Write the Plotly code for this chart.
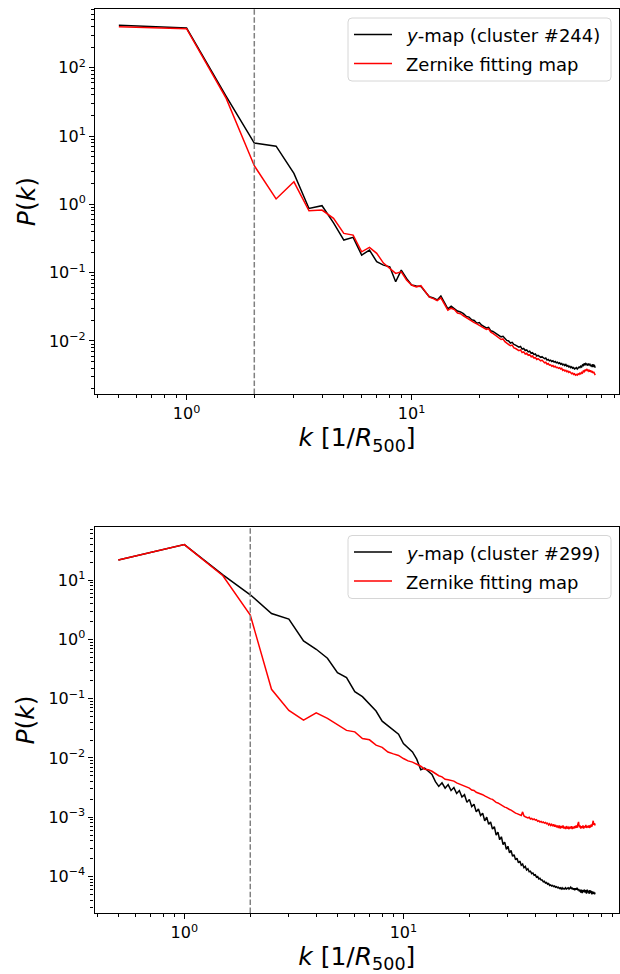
import plotly.graph_objects as go

# ---------------- data ----------------
k_244 = [
    0.5, 1.0, 1.5, 2.0, 2.5, 3.0, 3.5, 4.0, 4.5, 5.0,
    5.5, 6.0, 6.5, 7.0, 7.5, 8.0, 8.5, 9.0, 9.5, 10.0,
    10.5, 11.0, 11.5, 12.0, 12.5, 13.0, 13.5, 14.0, 14.5, 15.0,
    15.5, 16.0, 16.5, 17.0, 17.5, 18.0, 18.5, 19.0, 19.5, 20.0,
    20.5, 21.0, 21.5, 22.0, 22.5, 23.0, 23.5, 24.0, 24.5, 25.0,
    25.5, 26.0, 26.5, 27.0, 27.5, 28.0, 28.5, 29.0, 29.5, 30.0,
    30.5, 31.0, 31.5, 32.0, 32.5, 33.0, 33.5, 34.0, 34.5, 35.0,
    35.5, 36.0, 36.5, 37.0, 37.5, 38.0, 38.5, 39.0, 39.5, 40.0,
    40.5, 41.0, 41.5, 42.0, 42.5, 43.0, 43.5, 44.0, 44.5, 45.0,
    45.5, 46.0, 46.5, 47.0, 47.5, 48.0, 48.5, 49.0, 49.5, 50.0,
    50.5, 51.0, 51.5, 52.0, 52.5, 53.0, 53.5, 54.0, 54.5, 55.0,
    55.5, 56.0, 56.5, 57.0, 57.5, 58.0, 58.5, 59.0, 59.5, 60.0,
    60.5, 61.0, 61.5, 62.0, 62.5, 63.0, 63.5, 64.0, 64.5, 65.0,
    65.5,
]
P_ymap_244 = [
    417, 380, 38.0, 7.9, 7.1, 2.84, 0.87, 0.955, 0.537, 0.300,
    0.329, 0.181, 0.214, 0.1445, 0.129, 0.122, 0.0736, 0.109, 0.0824, 0.0660,
    0.0637, 0.0630, 0.0525, 0.0443, 0.0427, 0.0398, 0.0454, 0.0355, 0.0295, 0.0324,
    0.0302, 0.0275, 0.0266, 0.0251, 0.0229, 0.0224, 0.0204, 0.0200, 0.0182, 0.0186,
    0.0170, 0.0162, 0.0155, 0.0158, 0.0141, 0.0138, 0.0132, 0.0126, 0.0123, 0.0115,
    0.0117, 0.0107, 0.0102, 0.0100, 0.00933, 0.00955, 0.00891, 0.00871, 0.00851, 0.00813,
    0.00832, 0.00759, 0.00776, 0.00724, 0.00741, 0.00692, 0.00708, 0.00661, 0.00676, 0.00631,
    0.00646, 0.00603, 0.00617, 0.00589, 0.00575, 0.00589, 0.00562, 0.00550, 0.00562, 0.00525,
    0.00537, 0.00513, 0.00525, 0.00501, 0.00513, 0.00490, 0.00501, 0.00479, 0.00490, 0.00468,
    0.00479, 0.00457, 0.00468, 0.00447, 0.00457, 0.00437, 0.00452, 0.00427, 0.00437, 0.00417,
    0.00427, 0.00407, 0.00417, 0.00398, 0.00407, 0.00389, 0.00398, 0.00407, 0.00389, 0.00398,
    0.00417, 0.00407, 0.00427, 0.00417, 0.00447, 0.00437, 0.00468, 0.00447, 0.00468, 0.00457,
    0.00437, 0.00468, 0.00447, 0.00457, 0.00427, 0.00447, 0.00417, 0.00457, 0.00427, 0.00437,
    0.00407,
]
P_zern_244 = [
    398, 372, 35.5, 3.67, 1.20, 2.14, 0.805, 0.826, 0.624, 0.376,
    0.355, 0.202, 0.234, 0.192, 0.138, 0.116, 0.0977, 0.103, 0.0780, 0.0660,
    0.0620, 0.0645, 0.0525, 0.0437, 0.0417, 0.0389, 0.0427, 0.0339, 0.0282, 0.0302,
    0.0288, 0.0257, 0.0251, 0.0234, 0.0219, 0.0209, 0.0195, 0.0186, 0.0178, 0.0170,
    0.0162, 0.0155, 0.0148, 0.0151, 0.0135, 0.0129, 0.0123, 0.0115, 0.0112, 0.0105,
    0.0107, 0.00977, 0.00933, 0.00891, 0.00851, 0.00871, 0.00794, 0.00776, 0.00759, 0.00724,
    0.00741, 0.00676, 0.00692, 0.00646, 0.00661, 0.00617, 0.00631, 0.00589, 0.00603, 0.00562,
    0.00575, 0.00537, 0.00550, 0.00525, 0.00513, 0.00525, 0.00490, 0.00479, 0.00490, 0.00457,
    0.00468, 0.00442, 0.00447, 0.00427, 0.00437, 0.00417, 0.00427, 0.00407, 0.00412, 0.00398,
    0.00407, 0.00389, 0.00398, 0.00372, 0.00380, 0.00363, 0.00372, 0.00355, 0.00363, 0.00347,
    0.00355, 0.00339, 0.00331, 0.00339, 0.00324, 0.00331, 0.00316, 0.00324, 0.00316, 0.00331,
    0.00324, 0.00339, 0.00331, 0.00347, 0.00339, 0.00363, 0.00355, 0.00380, 0.00363, 0.00389,
    0.00372, 0.00363, 0.00380, 0.00355, 0.00372, 0.00347, 0.00363, 0.00339, 0.00355, 0.00324,
    0.00316,
]

k_299 = [
    0.5, 1.0, 1.5, 2.0, 2.5, 3.0, 3.5, 4.0, 4.5, 5.0,
    5.5, 6.0, 6.5, 7.0, 7.5, 8.0, 8.5, 9.0, 9.5, 10.0,
    10.5, 11.0, 11.5, 12.0, 12.5, 13.0, 13.5, 14.0, 14.5, 15.0,
    15.5, 16.0, 16.5, 17.0, 17.5, 18.0, 18.5, 19.0, 19.5, 20.0,
    20.5, 21.0, 21.5, 22.0, 22.5, 23.0, 23.5, 24.0, 24.5, 25.0,
    25.5, 26.0, 26.5, 27.0, 27.5, 28.0, 28.5, 29.0, 29.5, 30.0,
    30.5, 31.0, 31.5, 32.0, 32.5, 33.0, 33.5, 34.0, 34.5, 35.0,
    35.5, 36.0, 36.5, 37.0, 37.5, 38.0, 38.5, 39.0, 39.5, 40.0,
    40.5, 41.0, 41.5, 42.0, 42.5, 43.0, 43.5, 44.0, 44.5, 45.0,
    45.5, 46.0, 46.5, 47.0, 47.5, 48.0, 48.5, 49.0, 49.5, 50.0,
    50.5, 51.0, 51.5, 52.0, 52.5, 53.0, 53.5, 54.0, 54.5, 55.0,
    55.5, 56.0, 56.5, 57.0, 57.5, 58.0, 58.5, 59.0, 59.5, 60.0,
    60.5, 61.0, 61.5, 62.0, 62.5, 63.0, 63.5, 64.0, 64.5, 65.0,
    65.5, 66.0, 66.5, 67.0, 67.5, 68.0, 68.5, 69.0, 69.5, 70.0,
    70.5, 71.0, 71.5, 72.0, 72.5, 73.0, 73.5, 74.0, 74.5, 75.0,
]
P_ymap_299 = [
    21.8, 39.5, 12.2, 5.64, 2.72, 2.19, 0.94, 0.68, 0.48, 0.274,
    0.226, 0.131, 0.108, 0.082, 0.0617, 0.0417, 0.0347, 0.0302, 0.0251, 0.0174,
    0.0148, 0.0126, 0.00955, 0.00631, 0.00676, 0.00603, 0.00525, 0.00398, 0.00331, 0.00380,
    0.00309, 0.00355, 0.00282, 0.00316, 0.00251, 0.00282, 0.00219, 0.00240, 0.00178, 0.00200,
    0.00151, 0.00166, 0.00123, 0.00138, 0.00107, 0.00117, 0.000871, 0.00100, 0.000759, 0.000832,
    0.000631, 0.000692, 0.000501, 0.000562, 0.000417, 0.000468, 0.000347, 0.000380, 0.000288, 0.000324,
    0.000251, 0.000275, 0.000219, 0.000234, 0.000191, 0.000204, 0.000170, 0.000182, 0.000155, 0.000162,
    0.000141, 0.000148, 0.000129, 0.000135, 0.000120, 0.000123, 0.000112, 0.000115, 0.000105, 0.000107,
    9.77e-5, 1.00e-4, 9.12e-5, 9.33e-5, 8.71e-5, 8.71e-5, 8.13e-5, 8.32e-5, 7.76e-5, 7.94e-5,
    7.41e-5, 7.59e-5, 7.08e-5, 7.24e-5, 6.92e-5, 7.08e-5, 6.76e-5, 6.92e-5, 6.61e-5, 6.76e-5,
    6.46e-5, 6.61e-5, 6.31e-5, 6.46e-5, 6.17e-5, 6.46e-5, 6.17e-5, 6.31e-5, 6.17e-5, 6.46e-5,
    6.17e-5, 6.31e-5, 6.46e-5, 6.17e-5, 6.31e-5, 6.61e-5, 6.17e-5, 6.46e-5, 6.03e-5, 6.31e-5,
    5.89e-5, 6.31e-5, 6.03e-5, 6.46e-5, 5.89e-5, 6.17e-5, 5.62e-5, 6.03e-5, 5.37e-5, 6.03e-5,
    5.25e-5, 5.89e-5, 5.50e-5, 6.03e-5, 5.37e-5, 5.89e-5, 5.13e-5, 6.03e-5, 5.37e-5, 5.75e-5,
    5.13e-5, 5.89e-5, 5.25e-5, 5.75e-5, 5.01e-5, 5.62e-5, 5.13e-5, 5.50e-5, 5.01e-5, 5.37e-5,
]
P_zern_299 = [
    21.8, 39.5, 11.8, 2.56, 0.1436, 0.0634, 0.0435, 0.0577, 0.0464, 0.0367,
    0.0291, 0.0275, 0.0213, 0.0202, 0.0164, 0.0151, 0.0126, 0.0117, 0.0110, 0.00977,
    0.00891, 0.00851, 0.00794, 0.00724, 0.00646, 0.00631, 0.00596, 0.00537, 0.00501, 0.00479,
    0.00437, 0.00427, 0.00417, 0.00407, 0.00380, 0.00363, 0.00347, 0.00339, 0.00316, 0.00309,
    0.00288, 0.00282, 0.00263, 0.00257, 0.00245, 0.00240, 0.00229, 0.00219, 0.00214, 0.00204,
    0.00200, 0.00186, 0.00178, 0.00174, 0.00166, 0.00162, 0.00155, 0.00148, 0.00145, 0.00138,
    0.00135, 0.00132, 0.00126, 0.00123, 0.00117, 0.00115, 0.00112, 0.00110, 0.00107, 0.00123,
    0.00105, 0.00102, 0.00100, 0.000977, 0.00100, 0.000933, 0.000955, 0.000912, 0.000933, 0.000891,
    0.000912, 0.000851, 0.000871, 0.000832, 0.000851, 0.000813, 0.000832, 0.000794, 0.000813, 0.000776,
    0.000794, 0.000741, 0.000776, 0.000724, 0.000759, 0.000708, 0.000759, 0.000692, 0.000741, 0.000676,
    0.000724, 0.000661, 0.000724, 0.000646, 0.000708, 0.000661, 0.000724, 0.000646, 0.000692, 0.000631,
    0.000708, 0.000646, 0.000676, 0.000631, 0.000692, 0.000646, 0.000708, 0.000631, 0.000692, 0.000646,
    0.000708, 0.000661, 0.000724, 0.000661, 0.000759, 0.000832, 0.000676, 0.000724, 0.000646, 0.000708,
    0.000661, 0.000724, 0.000646, 0.000708, 0.000676, 0.000741, 0.000661, 0.000708, 0.000676, 0.000724,
    0.000661, 0.000708, 0.000692, 0.000759, 0.000692, 0.000794, 0.000871, 0.000741, 0.000794, 0.000724,
]

k_cut = 2.0

names_244 = ["<i>y</i>-map (cluster #244)", "Zernike fitting map"]
names_299 = ["<i>y</i>-map (cluster #299)", "Zernike fitting map"]
series_colors = ["black", "red"]

x_tickvals = [1, 10]
x_ticktext = ["10<sup>0</sup>", "10<sup>1</sup>"]
x_minor = [0.4, 0.5, 0.6, 0.7, 0.8, 0.9, 2, 3, 4, 5, 6, 7, 8, 9,
           20, 30, 40, 50, 60, 70, 80, 90]

y1_tickvals = [1e-2, 1e-1, 1, 10, 100]
y1_ticktext = ["10<sup>\u22122</sup>", "10<sup>\u22121</sup>", "10<sup>0</sup>",
               "10<sup>1</sup>", "10<sup>2</sup>"]
y2_tickvals = [1e-4, 1e-3, 1e-2, 1e-1, 1, 10]
y2_ticktext = ["10<sup>\u22124</sup>", "10<sup>\u22123</sup>", "10<sup>\u22122</sup>",
               "10<sup>\u22121</sup>", "10<sup>0</sup>", "10<sup>1</sup>"]


def minor_decades(lo, hi):
    vals = []
    for e in range(lo, hi + 1):
        for m in range(2, 10):
            vals.append(m * 10.0 ** e)
    return vals


assert len(k_244) == len(P_ymap_244) == len(P_zern_244)
assert len(k_299) == len(P_ymap_299) == len(P_zern_299)

W, H = 620, 974
FONT = "DejaVu Sans"


def px_x(p):
    return p / W


def px_y(p):
    return 1 - p / H


fig = go.Figure()
fig.add_trace(go.Scatter(x=k_244, y=P_ymap_244, mode="lines", name=names_244[0],
                         line=dict(color=series_colors[0], width=1.5), xaxis="x", yaxis="y"))
fig.add_trace(go.Scatter(x=k_244, y=P_zern_244, mode="lines", name=names_244[1],
                         line=dict(color=series_colors[1], width=1.5), xaxis="x", yaxis="y"))
fig.add_trace(go.Scatter(x=k_299, y=P_ymap_299, mode="lines", name=names_299[0],
                         line=dict(color=series_colors[0], width=1.5), xaxis="x2", yaxis="y2"))
fig.add_trace(go.Scatter(x=k_299, y=P_zern_299, mode="lines", name=names_299[1],
                         line=dict(color=series_colors[1], width=1.5), xaxis="x2", yaxis="y2"))

axis_common = dict(type="log", showline=True, linecolor="black", linewidth=1.1,
                   mirror=True, ticks="outside", ticklen=5, tickwidth=1.1,
                   tickcolor="black", showgrid=False, zeroline=False,
                   tickfont=dict(family=FONT, size=16, color="black"))
minor_common = dict(ticks="outside", ticklen=3, tickwidth=0.8, tickcolor="black",
                    showgrid=False)
xtitle = dict(text="<i>k</i> [1/<i>R</i><sub>500</sub>]",
              font=dict(family=FONT, size=25, color="black"), standoff=6)
ytitle = dict(text="<i>P</i>(<i>k</i>)",
              font=dict(family=FONT, size=25, color="black"), standoff=6)

# ---- legend boxes drawn in matplotlib style (rounded frame, long line handles) ----
shapes = [
    dict(type="line", xref="x", yref="y domain", x0=k_cut, x1=k_cut, y0=0, y1=1,
         line=dict(color="gray", width=1.5, dash="5.5px,2.4px")),
    dict(type="line", xref="x2", yref="y2 domain", x0=k_cut, x1=k_cut, y0=0, y1=1,
         line=dict(color="gray", width=1.5, dash="5.5px,2.4px")),
]
annotations = []


def rounded_box(x0, y0, x1, y1, r=4):
    X0, X1 = px_x(x0), px_x(x1)
    Y0, Y1 = px_y(y0), px_y(y1)
    rx, ry = r / W, r / H
    return (f"M {X0 + rx},{Y0} L {X1 - rx},{Y0} Q {X1},{Y0} {X1},{Y0 - ry} "
            f"L {X1},{Y1 + ry} Q {X1},{Y1} {X1 - rx},{Y1} L {X0 + rx},{Y1} "
            f"Q {X0},{Y1} {X0},{Y1 + ry} L {X0},{Y0 - ry} Q {X0},{Y0} {X0 + rx},{Y0} Z")


def add_legend(top, names):
    shapes.append(dict(type="path", xref="paper", yref="paper",
                       path=rounded_box(348, top, 611, top + 63),
                       fillcolor="rgba(255,255,255,0.8)",
                       line=dict(color="#d6d6d6", width=1), layer="above"))
    for i, (nm, col) in enumerate(zip(names, series_colors)):
        yrow = top + 16.5 + 29 * i
        shapes.append(dict(type="line", xref="paper", yref="paper",
                           x0=px_x(354), x1=px_x(392), y0=px_y(yrow), y1=px_y(yrow),
                           line=dict(color=col, width=1.5), layer="above"))
        annotations.append(dict(xref="paper", yref="paper", x=px_x(404), y=px_y(yrow + 1),
                                xanchor="left", yanchor="middle", text=nm, showarrow=False,
                                font=dict(family=FONT, size=18, color="black")))


add_legend(18, names_244)
add_legend(535.5, names_299)

fig.update_layout(
    width=W, height=H,
    margin=dict(l=0, r=0, t=0, b=0),
    paper_bgcolor="white", plot_bgcolor="white",
    font=dict(family=FONT, color="black"),
    showlegend=False,
    xaxis=dict(axis_common, domain=[px_x(95), px_x(619)], anchor="y",
               range=[-0.407, 1.922], tickvals=x_tickvals, ticktext=x_ticktext,
               minor=dict(minor_common, tickvals=x_minor), title=xtitle),
    yaxis=dict(axis_common, domain=[px_y(394), px_y(9.3)], anchor="x",
               range=[-2.776, 2.855], tickvals=y1_tickvals, ticktext=y1_ticktext,
               minor=dict(minor_common, tickvals=minor_decades(-3, 2)), title=ytitle),
    xaxis2=dict(axis_common, domain=[px_x(94.5), px_x(619)], anchor="y2",
                range=[-0.410, 1.984], tickvals=x_tickvals, ticktext=x_ticktext,
                minor=dict(minor_common, tickvals=x_minor), title=xtitle),
    yaxis2=dict(axis_common, domain=[px_y(913), px_y(527)], anchor="x2",
                range=[-4.615, 1.894], tickvals=y2_tickvals, ticktext=y2_ticktext,
                minor=dict(minor_common, tickvals=minor_decades(-5, 1)), title=ytitle),
    shapes=shapes,
    annotations=annotations,
)

fig.write_html("out.html", config={"displayModeBar": False},
               post_script="document.body.style.margin='0';document.body.style.overflow='hidden';")
